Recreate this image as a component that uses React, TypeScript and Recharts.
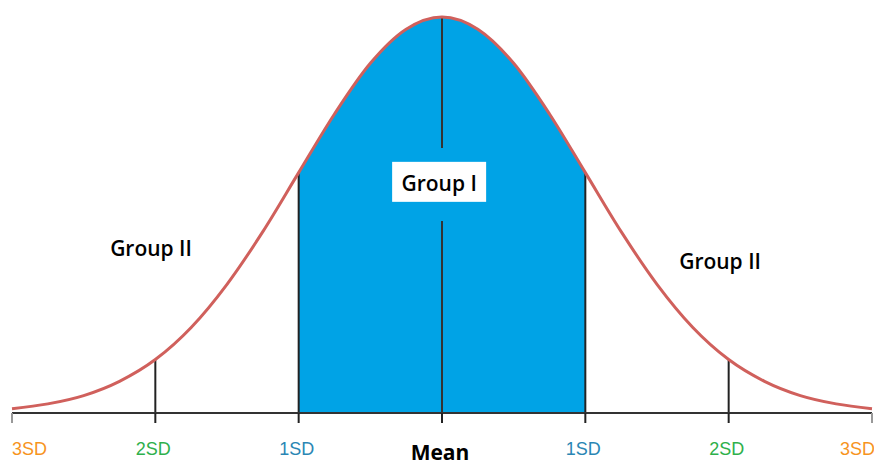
import React from 'react';
import {
  ComposedChart,
  Line,
  Area,
  XAxis,
  YAxis,
  ReferenceLine,
  ReferenceDot,
} from 'recharts';

// positions along the axis, in standard deviations
const sdSteps = [
  -3, -2.75, -2.5, -2.25, -2, -1.75, -1.5, -1.25, -1, -0.75, -0.5, -0.25, 0,
  0.25, 0.5, 0.75, 1, 1.25, 1.5, 1.75, 2, 2.25, 2.5, 2.75, 3,
];
// curve height, peak = 100
const curveHeight = [
  1.1, 2.3, 4.4, 8.0, 13.5, 21.6, 32.5, 45.8, 60.7, 75.5, 88.3, 96.9, 100,
  96.9, 88.3, 75.5, 60.7, 45.8, 32.5, 21.6, 13.5, 8.0, 4.4, 2.3, 1.1,
];
const axisTicks = [-3, -2, -1, 0, 1, 2, 3];
const tickLabels = ['3SD', '2SD', '1SD', 'Mean', '1SD', '2SD', '3SD'];
const tickColors = ['#f7941d', '#2eb04b', '#2a86b4', '#000', '#2a86b4', '#2eb04b', '#f7941d'];
const sdMarkers = [-2, -1, 1, 2];
const groupOneRange = [-1, 1];

const data = sdSteps.map((sd, i) => ({
  sd,
  curve: curveHeight[i],
  inner: sd >= groupOneRange[0] && sd <= groupOneRange[1] ? curveHeight[i] : null,
}));

const heightAt = (sd: number) => curveHeight[sdSteps.indexOf(sd)];

const labelFont = "'Open Sans', sans-serif";

const SdTick = (props: any) => {
  const { x, y, payload } = props;
  const i = axisTicks.indexOf(payload.value);
  const edge = Math.abs(payload.value) === 3;
  const isMean = payload.value === 0;
  let anchor: 'start' | 'middle' | 'end' = 'middle';
  let tx = x - 2;
  if (payload.value === -3) { anchor = 'start'; tx = x; }
  if (payload.value === 3) { anchor = 'start'; tx = x - 32; }
  return (
    <g>
      <line x1={x} x2={x} y1={y - 10} y2={y} stroke={edge ? '#999' : '#222'} strokeWidth={2} />
      <text
        x={tx}
        y={isMean ? y + 37 : y + 32}
        textAnchor={anchor}
        fill={tickColors[i]}
        fontFamily={isMean ? labelFont : "'Liberation Sans', Arial, sans-serif"}
        fontWeight={isMean ? 700 : 400}
        fontSize={isMean ? 21 : 18}
      >
        {tickLabels[i]}
      </text>
    </g>
  );
};

const GroupText = (text: string, boxed = false) => (p: any) => (
  <g>
    {boxed && <rect x={p.cx - 47} y={p.cy - 29} width={94} height={40} fill="#fff" />}
    <text
      x={p.cx}
      y={p.cy}
      textAnchor="middle"
      fontFamily={labelFont}
      fontWeight={600}
      fontSize={21}
      fill="#000"
    >
      {text}
    </text>
  </g>
);

const App: React.FC = () => {
  return (
    <div style={{ position: 'absolute', left: 0, top: 0, width: 874, height: 465, background: '#fff' }}>
      <ComposedChart
        width={874}
        height={465}
        data={data}
        margin={{ top: 17, right: 2, left: 12, bottom: 0 }}
      >
        <XAxis
          dataKey="sd"
          type="number"
          domain={[-3, 3]}
          ticks={axisTicks}
          interval={0}
          height={52}
          axisLine={{ stroke: '#333', strokeWidth: 2 }}
          tickLine={false}
          tickSize={10}
          tickMargin={0}
          tick={<SdTick />}
        />
        <YAxis hide domain={[0, 100]} />
        <Area
          dataKey="inner"
          type="monotone"
          stroke="none"
          fill="#00a3e6"
          fillOpacity={1}
          isAnimationActive={false}
        />
        {sdMarkers.map((sd) => (
          <ReferenceLine
            key={sd}
            segment={[{ x: sd, y: 0 }, { x: sd, y: heightAt(sd) }]}
            stroke="#222"
            strokeWidth={2}
          />
        ))}
        <ReferenceLine segment={[{ x: 0, y: 0 }, { x: 0, y: 48.5 }]} stroke="#333" strokeWidth={2} />
        <ReferenceLine segment={[{ x: 0, y: 66.9 }, { x: 0, y: heightAt(0) }]} stroke="#333" strokeWidth={2} />
        <Line
          dataKey="curve"
          type="monotone"
          stroke="#d0605c"
          strokeWidth={3}
          dot={false}
          isAnimationActive={false}
        />
        <ReferenceDot x={-2.03} y={39.6} r={0} shape={GroupText('Group II')} />
        <ReferenceDot x={1.94} y={36.4} r={0} shape={GroupText('Group II')} />
        <ReferenceDot x={-0.02} y={56.1} r={0} shape={GroupText('Group I', true)} />
      </ComposedChart>
    </div>
  );
};

export default App;
